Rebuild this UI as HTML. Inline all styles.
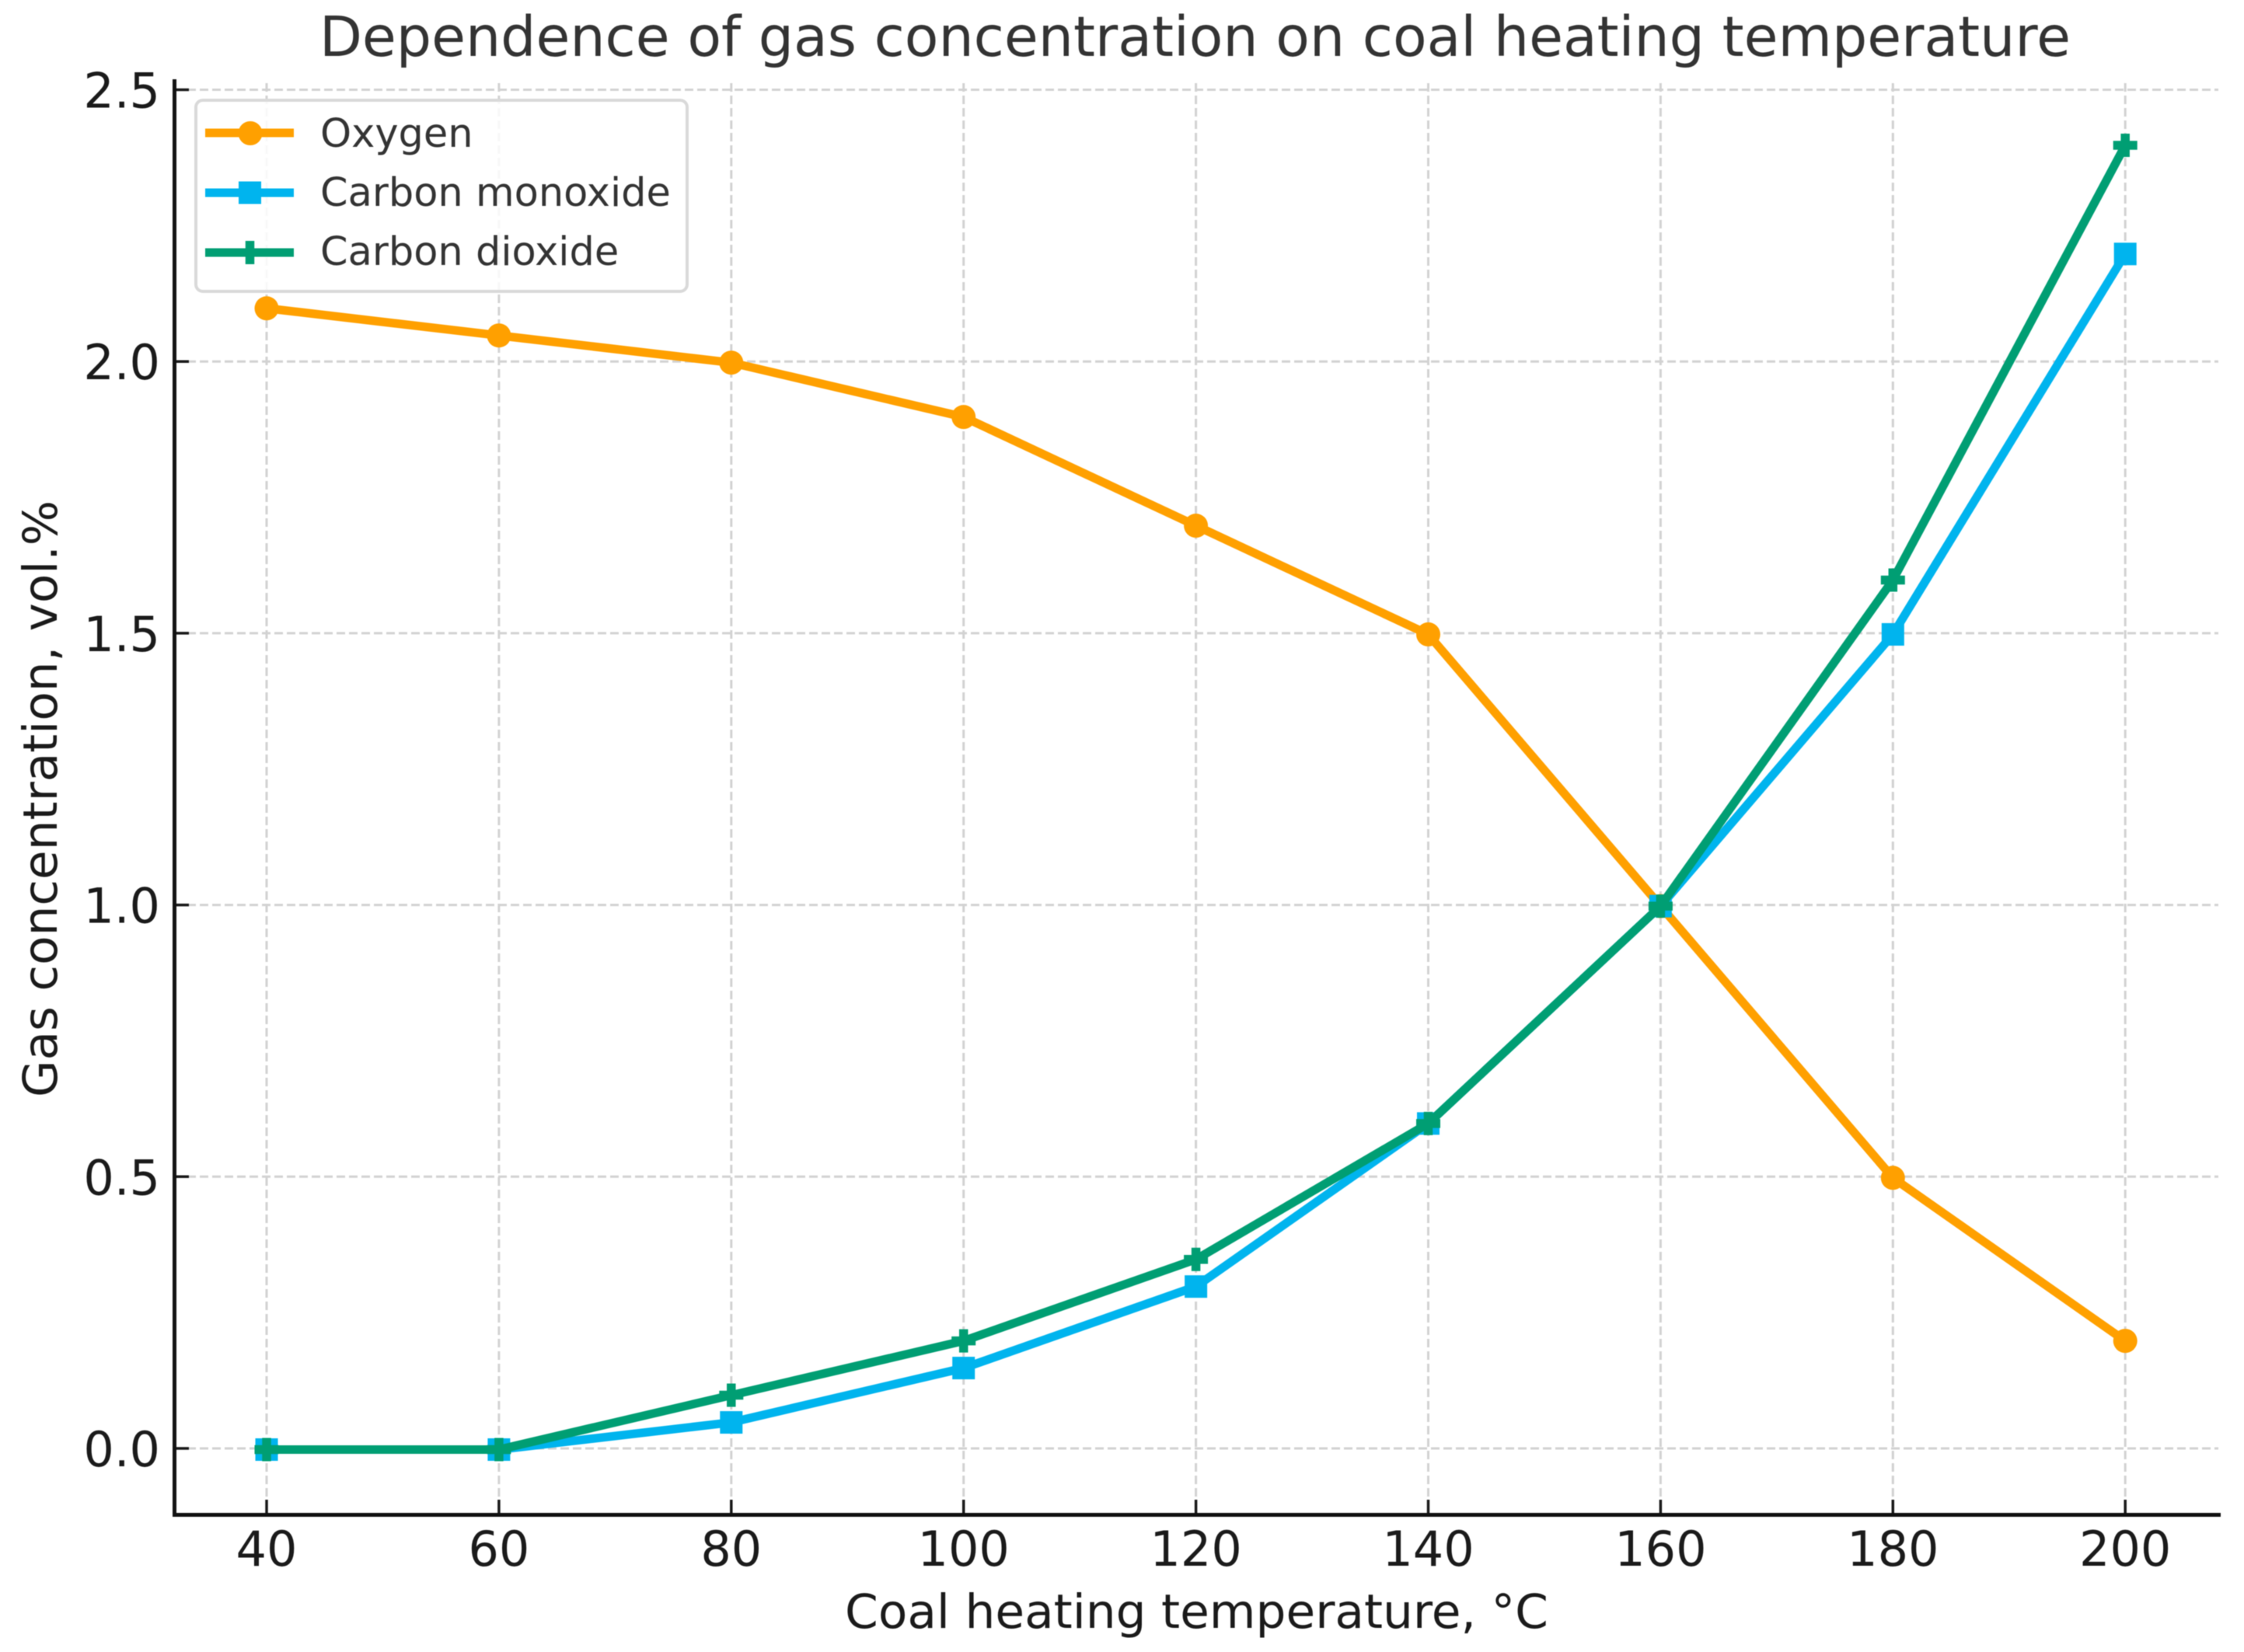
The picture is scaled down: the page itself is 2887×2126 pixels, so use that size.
<!DOCTYPE html>
<html lang="en">
<head>
<meta charset="utf-8">
<title>Dependence of gas concentration on coal heating temperature</title>
<style>
html,body{margin:0;padding:0;background:#fff;}
svg{display:block;filter:blur(0.6px);}
text{font-family:"DejaVu Sans","Liberation Sans",sans-serif;}
</style>
</head>
<body>
<svg id="chart" xmlns="http://www.w3.org/2000/svg" width="2887" height="2126" viewBox="0 0 2887 2126">
  <rect x="0" y="0" width="2887" height="2126" fill="#ffffff"/>
  <g id="grid"></g>
  <g id="ticks"></g>
  <g id="series"></g>
  <line x1="224.5" y1="102" x2="224.5" y2="1951.5" stroke="#111" stroke-width="5"/>
  <line x1="222" y1="1949.5" x2="2857" y2="1949.5" stroke="#111" stroke-width="5"/>
  <text x="411" y="72" font-size="71" fill="#333333" textLength="2253" lengthAdjust="spacingAndGlyphs">Dependence of gas concentration on coal heating temperature</text>
  <text x="1087" y="2095" font-size="61" fill="#1a1a1a" textLength="905" lengthAdjust="spacingAndGlyphs">Coal heating temperature, °C</text>
  <text transform="translate(73,1412) rotate(-90)" x="0" y="0" font-size="61" fill="#1a1a1a" textLength="768" lengthAdjust="spacingAndGlyphs">Gas concentration, vol.%</text>
  <g>
    <rect x="252" y="129" width="632" height="246" rx="9" ry="9" fill="#ffffff" fill-opacity="0.85" stroke="#d9d9d9" stroke-width="4"/>
    <g>
      <line x1="264" y1="171" x2="378" y2="171" stroke="#FFA000" stroke-width="11"/>
      <circle cx="322" cy="171.5" r="15.5" fill="#FFA000"/>
      <text x="412" y="189" font-size="51" fill="#333333">Oxygen</text>
    </g>
    <g>
      <line x1="264" y1="248" x2="378" y2="248" stroke="#00B4EE" stroke-width="11"/>
      <rect x="307" y="233.5" width="29" height="29" fill="#00B4EE"/>
      <text x="412" y="265" font-size="51" fill="#333333">Carbon monoxide</text>
    </g>
    <g>
      <line x1="264" y1="325" x2="378" y2="325" stroke="#009E73" stroke-width="11"/>
      <path d="M321.5 310V340" stroke="#009E73" stroke-width="11.5" fill="none"/>
      <text x="412" y="341" font-size="51" fill="#333333">Carbon dioxide</text>
    </g>
  </g>
</svg>
<script>
const temperatures = [40, 60, 80, 100, 120, 140, 160, 180, 200];
const oxygenValues = [2.1, 2.05, 2.0, 1.9, 1.7, 1.5, 1.0, 0.5, 0.2];
const carbonMonoxideValues = [0, 0, 0.05, 0.15, 0.3, 0.6, 1.0, 1.5, 2.2];
const carbonDioxideValues = [0, 0, 0.1, 0.2, 0.35, 0.6, 1.0, 1.6, 2.4];
const xTickLabels = [40, 60, 80, 100, 120, 140, 160, 180, 200];
const yTickLabels = ['0.0', '0.5', '1.0', '1.5', '2.0', '2.5'];

const SVG_NS = 'http://www.w3.org/2000/svg';
function xScale(v) { return 343 + (v - 40) * 14.945; }
function yScale(v) { return 1864 - 699.4 * v; }
function yMark(v) { return yScale(v) + 1.5; }
function make(tag, parent) {
  const el = document.createElementNS(SVG_NS, tag);
  parent.appendChild(el);
  return el;
}

const gridGroup = document.getElementById('grid');
const tickGroup = document.getElementById('ticks');
const seriesGroup = document.getElementById('series');

xTickLabels.forEach(function (label) {
  const x = xScale(Number(label));
  const grid = make('line', gridGroup);
  
  
  grid.setAttribute('x1', x); grid.setAttribute('x2', x);
  grid.setAttribute('y1', 107); grid.setAttribute('y2', 1949);
  grid.setAttribute('stroke', '#d2d2d2');
  grid.setAttribute('stroke-width', 3);
  grid.setAttribute('stroke-dasharray', '11 5');

  const tick = make('line', tickGroup);
  
  
  tick.setAttribute('x1', x); tick.setAttribute('x2', x);
  tick.setAttribute('y1', 1930); tick.setAttribute('y2', 1949);
  tick.setAttribute('stroke', '#1a1a1a');
  tick.setAttribute('stroke-width', 3.5);

  const text = make('text', tickGroup);
  
  
  text.setAttribute('x', x);
  text.setAttribute('y', 2015);
  text.setAttribute('font-size', 62);
  text.setAttribute('fill', '#1a1a1a');
  text.setAttribute('text-anchor', 'middle');
  text.textContent = label;
});

yTickLabels.forEach(function (label) {
  const y = yScale(Number(label));
  const grid = make('line', gridGroup);
  
  
  grid.setAttribute('x1', 225); grid.setAttribute('x2', 2854);
  grid.setAttribute('y1', y); grid.setAttribute('y2', y);
  grid.setAttribute('stroke', '#d2d2d2');
  grid.setAttribute('stroke-width', 3);
  grid.setAttribute('stroke-dasharray', '11 5');

  const tick = make('line', tickGroup);
  
  
  tick.setAttribute('x1', 225); tick.setAttribute('x2', 243);
  tick.setAttribute('y1', y); tick.setAttribute('y2', y);
  tick.setAttribute('stroke', '#1a1a1a');
  tick.setAttribute('stroke-width', 3.5);

  const text = make('text', tickGroup);
  
  
  text.setAttribute('x', 206);
  text.setAttribute('y', y + 23);
  text.setAttribute('font-size', 62);
  text.setAttribute('fill', '#1a1a1a');
  text.setAttribute('text-anchor', 'end');
  text.textContent = label;
});

function drawSeries(values, color, key, marker) {
  const group = make('g', seriesGroup);
  
  

  const line = make('polyline', group);
  
  
  line.setAttribute('points', values.map(function (v, i) {
    return xScale(temperatures[i]) + ',' + yMark(v);
  }).join(' '));
  line.setAttribute('fill', 'none');
  line.setAttribute('stroke', color);
  line.setAttribute('stroke-width', 11);
  line.setAttribute('stroke-linejoin', 'round');

  values.forEach(function (v, i) {
    const cx = xScale(temperatures[i]);
    const cy = yMark(v);
    let m;
    if (marker === 'circle') {
      m = make('circle', group);
      m.setAttribute('cx', cx);
      m.setAttribute('cy', cy);
      m.setAttribute('r', 15.5);
      m.setAttribute('fill', color);
    } else if (marker === 'square') {
      m = make('rect', group);
      m.setAttribute('x', cx - 14.5);
      m.setAttribute('y', cy - 14.5);
      m.setAttribute('width', 29);
      m.setAttribute('height', 29);
      m.setAttribute('fill', color);
    } else {
      m = make('path', group);
      m.setAttribute('d', 'M' + (cx - 15.5) + ' ' + cy + 'H' + (cx + 15.5) + 'M' + cx + ' ' + (cy - 15) + 'V' + (cy + 15));
      m.setAttribute('stroke', color);
      m.setAttribute('stroke-width', 11.5);
      m.setAttribute('fill', 'none');
    }
    
    
  });
}

drawSeries(oxygenValues, '#FFA000', 'oxygen', 'circle');
drawSeries(carbonMonoxideValues, '#00B4EE', 'carbon-monoxide', 'square');
drawSeries(carbonDioxideValues, '#009E73', 'carbon-dioxide', 'plus');
</script>
</body>
</html>
